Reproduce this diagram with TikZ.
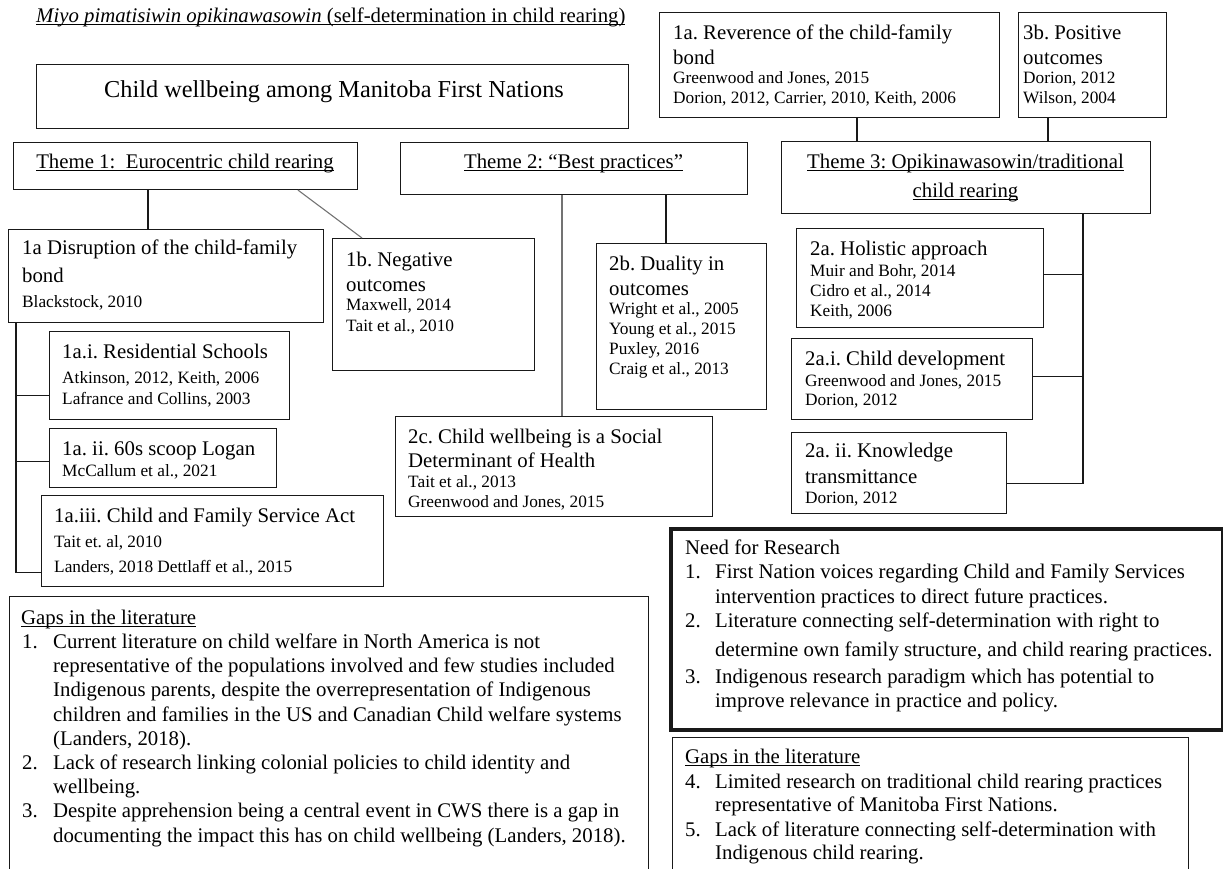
\documentclass[tikz,border=0pt]{standalone}
\usepackage{fontspec}
\setmainfont{Liberation Serif}
\frenchspacing
\newcommand{\hdf}{\fontsize{20.8}{24}\selectfont}
\newcommand{\ctf}{\fontsize{17.3}{20}\selectfont}
\newcommand{\bigf}{\fontsize{24.3}{28}\selectfont}
\newcommand{\lead}{\rule{0pt}{16pt}}
\newsavebox{\ulbox}
\newcommand{\undl}[1]{\sbox{\ulbox}{#1}\rlap{\rule[-2.4pt]{\wd\ulbox}{1pt}}\usebox{\ulbox}}
\newcommand{\numl}[1]{\hspace*{1pt}\makebox[31pt][l]{#1}}
\newcommand{\numr}[1]{\makebox[30pt][l]{#1}}
\newcommand{\indl}{\hspace*{32pt}}
\newcommand{\indr}{\hspace*{30pt}}
\begin{document}
\begin{tikzpicture}[x=1pt,y=-1pt,
  box/.style={draw=black!90, line width=1.1pt, anchor=north west, inner sep=0pt},
  txt/.style={anchor=north west, inner sep=0pt, align=left, font=\ctf},
  ctr/.style={anchor=base, inner sep=0pt, font=\hdf},
  link/.style={draw=black!90, line width=1.1pt},
  glink/.style={draw=black!55, line width=1.1pt}]
\useasboundingbox (0,0) rectangle (1223,869);
\clip (0,0) rectangle (1223,869);

% title line
\node[anchor=base west, inner sep=0pt, font=\hdf] (ttl) at (36,23)
  {\undl{\textit{Miyo pimatisiwin opikinawasowin} (self-determination in child rearing)}};

% frames
\node[box, minimum width=592pt, minimum height=64pt] (main) at (36,64) {};
\node[box, minimum width=340pt, minimum height=105pt] (rev) at (659,12) {};
\node[box, minimum width=148pt, minimum height=105pt] (pos) at (1018,12) {};
\node[box, minimum width=344pt, minimum height=47pt] (t1) at (13,142) {};
\node[box, minimum width=347pt, minimum height=52pt] (t2) at (400,142) {};
\node[box, minimum width=369pt, minimum height=72pt] (t3) at (781,141) {};
\node[box, minimum width=315pt, minimum height=93pt] (dis) at (8,229) {};
\node[box, minimum width=202pt, minimum height=132pt] (neg) at (332,238) {};
\node[box, minimum width=170pt, minimum height=166pt] (dua) at (596,243) {};
\node[box, minimum width=317pt, minimum height=100pt] (sdh) at (395,416) {};
\node[box, minimum width=247pt, minimum height=99pt] (hol) at (796,228) {};
\node[box, minimum width=241pt, minimum height=81pt] (dev) at (791,338) {};
\node[box, minimum width=215pt, minimum height=81pt] (kno) at (791,432) {};
\node[box, minimum width=240pt, minimum height=88pt] (res) at (49,331) {};
\node[box, minimum width=227pt, minimum height=59pt] (scp) at (49,428) {};
\node[box, minimum width=342pt, minimum height=91pt] (cfs) at (41,495) {};
\node[box, minimum width=639pt, minimum height=300pt] (gapl) at (9,596) {};
\node[box, line width=4pt, minimum width=552pt, minimum height=201pt] (need) at (669,527) {};
\node[box, minimum width=516pt, minimum height=200pt] (gapr) at (672,737) {};

% texts
\node[anchor=base, inner sep=0pt, font=\bigf] (main-t) at (334,98) {Child wellbeing among Manitoba First Nations};

\node[txt] (rev-t) at (673,23) {{\hdf\lead 1a. Reverence of the child-family}\\[5pt]
  {\hdf bond}\\[-1pt] Greenwood and Jones, 2015\\ Dorion, 2012, Carrier, 2010, Keith, 2006};
\node[txt] (pos-t) at (1023,23) {{\hdf\lead 3b. Positive}\\[5pt]
  {\hdf outcomes}\\[-1pt] Dorion, 2012\\ Wilson, 2004};

\node[ctr] (t1-t) at (185,169) {\undl{Theme 1:\ \ Eurocentric child rearing}};
\node[ctr] (t2-t) at (573.5,169) {\undl{Theme 2: “Best practices”}};
\node[anchor=north, inner sep=0pt, align=center, font=\hdf] (t3-t) at (965.5,152)
  {\lead\undl{Theme 3: Opikinawasowin/traditional}\\[5pt]\undl{child rearing}};

\node[txt] (dis-t) at (22,238) {{\hdf\lead 1a Disruption of the child-family}\\[8pt]
  {\hdf bond}\\[5pt] Blackstock, 2010};
\node[txt] (neg-t) at (346,250) {{\hdf\lead 1b. Negative}\\[5pt]
  {\hdf outcomes}\\[-1pt] Maxwell, 2014\\[1pt] Tait et al., 2010};
\node[txt] (dua-t) at (609,254) {{\hdf\lead 2b. Duality in}\\[5pt]
  {\hdf outcomes}\\[-1pt] Wright et al., 2005\\ Young et al., 2015\\ Puxley, 2016\\ Craig et al., 2013};
\node[txt] (sdh-t) at (408,427) {{\hdf\lead 2c. Child wellbeing is a Social}\\[4pt]
  {\hdf Determinant of Health}\\ Tait et al., 2013\\ Greenwood and Jones, 2015};
\node[txt] (hol-t) at (810,239) {{\hdf\lead 2a. Holistic approach}\\[1pt]
  Muir and Bohr, 2014\\ Cidro et al., 2014\\ Keith, 2006};
\node[txt] (dev-t) at (805,349) {{\hdf\lead 2a.i. Child development}\\[1pt]
  Greenwood and Jones, 2015\\[-1pt] Dorion, 2012};
\node[txt] (kno-t) at (805,441) {{\hdf\lead 2a. ii. Knowledge}\\[6pt]
  {\hdf transmittance}\\ Dorion, 2012};
\node[txt] (res-t) at (62,342) {{\hdf\lead 1a.i. Residential Schools}\\[5pt]
  Atkinson, 2012, Keith, 2006\\[1pt] Lafrance and Collins, 2003};
\node[txt] (scp-t) at (62,439) {{\hdf\lead 1a. ii. 60s scoop Logan}\\[1pt]
  McCallum et al., 2021};
\node[txt] (cfs-t) at (54,506) {{\hdf\lead 1a.iii. Child and Family Service Act}\\[5pt]
  Tait et. al, 2010\\[5pt] Landers, 2018 Dettlaff et al., 2015};

\node[txt, font=\fontsize{20.8}{24.2}\selectfont] (gapl-t) at (21,608) {%
  \lead\undl{Gaps in the literature}\\
  \numl{1.}Current literature on child welfare in North America is not\\
  \indl representative of the populations involved and few studies included\\
  \indl Indigenous parents, despite the overrepresentation of Indigenous\\
  \indl children and families in the US and Canadian Child welfare systems\\
  \indl (Landers, 2018).\\
  \numl{2.}Lack of research linking colonial policies to child identity and\\
  \indl wellbeing.\\
  \numl{3.}Despite apprehension being a central event in CWS there is a gap in\\
  \indl documenting the impact this has on child wellbeing (Landers, 2018).};

\node[txt, font=\fontsize{20.8}{24.5}\selectfont] (need-t) at (685,538) {%
  \lead Need for Research\\
  \numr{1.}First Nation voices regarding Child and Family Services\\
  \indr intervention practices to direct future practices.\\
  \numr{2.}Literature connecting self-determination with right to\\[4pt]
  \indr determine own family structure, and child rearing practices.\\[2.5pt]
  \numr{3.}Indigenous research paradigm which has potential to\\
  \indr improve relevance in practice and policy.};

\node[txt, font=\fontsize{20.8}{24}\selectfont] (gapr-t) at (685,747) {%
  \lead\undl{Gaps in the literature}\\[1pt]
  \numr{4.}Limited research on traditional child rearing practices\\[-1pt]
  \indr representative of Manitoba First Nations.\\[1pt]
  \numr{5.}Lack of literature connecting self-determination with\\[-1pt]
  \indr Indigenous child rearing.};

% connectors
\draw[link] ([xshift=135pt]t1.south west) coordinate (c1) -- (c1 |- dis.north);
\draw[glink] ([xshift=285pt]t1.south west) -- ([xshift=30pt]neg.north west);
\coordinate (b1) at ([yshift=25pt]res.south west);
\coordinate (b2) at ([yshift=27pt]scp.south west);
\coordinate (b3) at ([yshift=15pt]cfs.south west);
\draw[link] ([xshift=8pt]dis.south west) coordinate (c2) |- (b3);
\draw[link] (c2 |- b1) -- (b1);
\draw[link] (c2 |- b2) -- (b2);

\draw[glink] ([xshift=162pt]t2.south west) coordinate (c3) -- (c3 |- sdh.north);
\draw[link] ([xshift=266pt]t2.south west) coordinate (c4) -- (c4 |- dua.north);

\draw[link] ([xshift=198pt]rev.south west) coordinate (c5) -- (c5 |- t3.north);
\draw[link] ([xshift=30pt]pos.south west) coordinate (c6) -- (c6 |- t3.north);

\coordinate (b4) at ([yshift=54pt]hol.south east);
\coordinate (b5) at ([yshift=44pt]dev.south east);
\coordinate (b6) at ([yshift=31pt]kno.south east);
\draw[link] ([xshift=302pt]t3.south west) coordinate (c7) |- (b6);
\draw[link] (b4) -- (c7 |- b4);
\draw[link] (b5) -- (c7 |- b5);
\end{tikzpicture}
\end{document}
